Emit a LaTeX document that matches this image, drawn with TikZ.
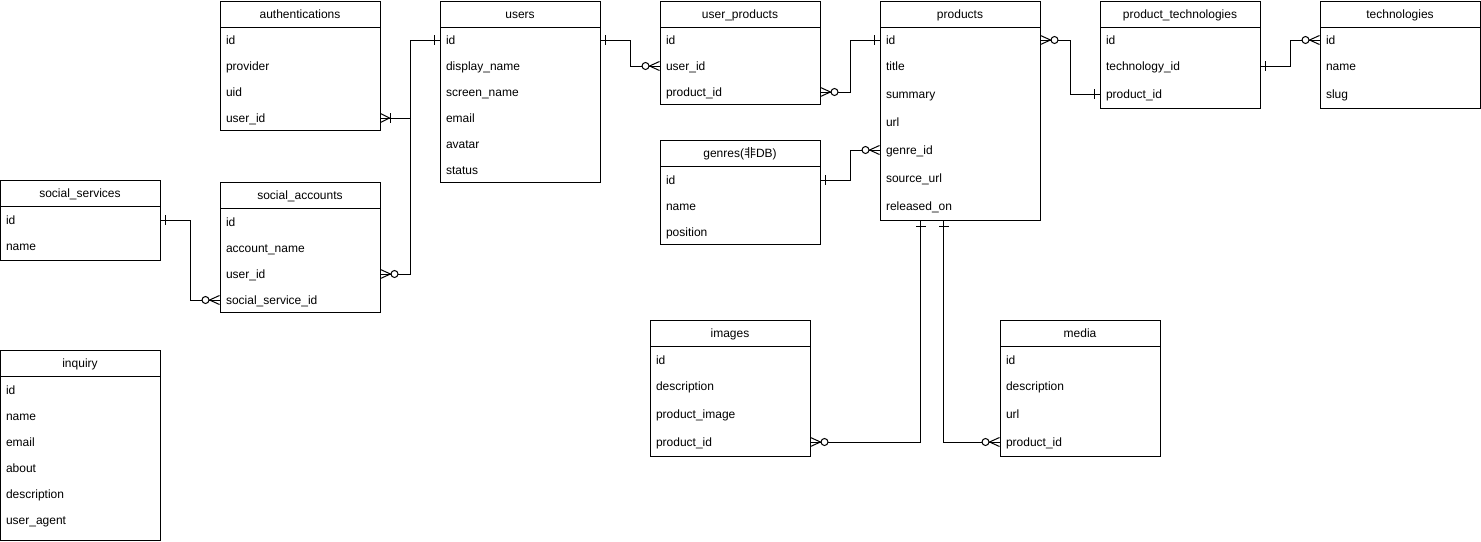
\documentclass[tikz,border=0pt]{standalone}
\usepackage{fontspec}
\setmainfont{Liberation Sans}
\newfontfamily\cjk{Noto Sans CJK SC}
\tikzset{
  every picture/.style={x=1pt,y=-1pt,line width=1pt},
  tframe/.style={draw,line width=1pt,minimum width=160pt,inner sep=0pt,anchor=north west},
  thead/.style={font=\fontsize{12}{14}\selectfont,inner sep=0pt,text height=8.6pt,text depth=0pt},
  erow/.style={font=\fontsize{12}{14}\selectfont,minimum width=160pt,minimum height=26pt,
    text width=148pt,inner xsep=6pt,inner ysep=0pt,align=left,text height=8.6pt,text depth=0pt},
  one/.pic={\draw (5,-5) -- (5,5);},
  zmany/.pic={\draw (0,-4.5) -- (10,0) -- (0,4.5);
              \draw[fill=white] (14,0) circle[radius=3.5pt];},
  onemany/.pic={\draw (0,-4.5) -- (9,0) -- (0,4.5); \draw (10,-5) -- (10,5);},
}
% #1 name, #2 x left, #3 top, #4 bottom, #5 title
\newcommand\ertable[5]{%
  \node[tframe,minimum height={(#4-#3)*1pt}] (#1) at (#2,#3) {};
  \draw (#2,#3+26) -- (#2+160,#3+26);
  \node[thead] (#1-t) at (#2+80,#3+13.5) {#5};
}
% #1 name, #2 x left, #3 y center, #4 text
\newcommand\erow[4]{\node[erow] (#1) at (#2+80,#3) {#4};}
\begin{document}
\begin{tikzpicture}
\useasboundingbox (0,0) rectangle (1481,541);

% authentications
\ertable{auth}{220}{1}{130}{authentications}
\erow{authid}{220}{40}{id}
\erow{authprovider}{220}{66}{provider}
\erow{authuid}{220}{92}{uid}
\erow{authuserid}{220}{118}{user\_id}

% users
\ertable{users}{440}{1}{182}{users}
\erow{usersid}{440}{40}{id}
\erow{usersdisp}{440}{66}{display\_name}
\erow{usersscreen}{440}{92}{screen\_name}
\erow{usersemail}{440}{118}{email}
\erow{usersavatar}{440}{144}{avatar}
\erow{usersstatus}{440}{170}{status}

% user_products
\ertable{up}{660}{1}{104}{user\_products}
\erow{upid}{660}{40}{id}
\erow{upuserid}{660}{66}{user\_id}
\erow{upproductid}{660}{92}{product\_id}

% products
\ertable{products}{880}{1}{220}{products}
\erow{pid}{880}{40}{id}
\erow{ptitle}{880}{66}{title}
\erow{psummary}{880}{94}{summary}
\erow{purl}{880}{122}{url}
\erow{pgenre}{880}{150}{genre\_id}
\erow{psource}{880}{178}{source\_url}
\erow{preleased}{880}{206}{released\_on}

% product_technologies
\ertable{pt}{1100}{1}{108}{product\_technologies}
\erow{ptid}{1100}{40}{id}
\erow{pttech}{1100}{66}{technology\_id}
\erow{ptproductid}{1100}{94}{product\_id}

% technologies
\ertable{tech}{1320}{1}{108}{technologies}
\erow{techid}{1320}{40}{id}
\erow{techname}{1320}{66}{name}
\erow{techslug}{1320}{94}{slug}

% genres
\ertable{genres}{660}{140}{244}{genres({\cjk 非}DB)}
\erow{gid}{660}{180}{id}
\erow{gname}{660}{206}{name}
\erow{gpos}{660}{232}{position}

% social_services
\ertable{ss}{0}{180}{260}{social\_services}
\erow{ssid}{0}{220}{id}
\erow{ssname}{0}{246}{name}

% social_accounts
\ertable{sa}{220}{182}{312}{social\_accounts}
\erow{said}{220}{222}{id}
\erow{saname}{220}{248}{account\_name}
\erow{sauserid}{220}{274}{user\_id}
\erow{saservice}{220}{300}{social\_service\_id}

% inquiry
\ertable{inq}{0}{350}{540}{inquiry}
\erow{inqid}{0}{390}{id}
\erow{inqname}{0}{416}{name}
\erow{inqemail}{0}{442}{email}
\erow{inqabout}{0}{468}{about}
\erow{inqdesc}{0}{494}{description}
\erow{inqua}{0}{520}{user\_agent}

% images
\ertable{img}{650}{320}{456}{images}
\erow{imgid}{650}{360}{id}
\erow{imgdesc}{650}{386}{description}
\erow{imgpimg}{650}{414}{product\_image}
\erow{imgproductid}{650}{442}{product\_id}

% media
\ertable{media}{1000}{320}{456}{media}
\erow{mediaid}{1000}{360}{id}
\erow{mediadesc}{1000}{386}{description}
\erow{mediaurl}{1000}{414}{url}
\erow{mediaproductid}{1000}{442}{product\_id}

% connectors
\draw (authuserid.east) -- ++(30,0) |- (usersid.west);
\draw (sauserid.east) -- ++(30,0) |- (usersid.west);
\draw (usersid.east) -- ++(30,0) |- (upuserid.west);
\draw (upproductid.east) -- ++(30,0) |- (pid.west);
\draw (gid.east) -- ++(30,0) |- (pgenre.west);
\draw (pid.east) -- ++(30,0) |- (ptproductid.west);
\draw (pttech.east) -- ++(30,0) |- (techid.west);
\draw (ssid.east) -- ++(30,0) |- (saservice.west);
\coordinate (pb1) at ([xshift=-40pt]products.south);
\coordinate (pb2) at ([xshift=-17pt]products.south);
\draw (pb1) |- (imgproductid.east);
\draw (pb2) |- (mediaproductid.west);

% markers
\pic at (authuserid.east) {onemany};
\pic[xscale=-1] at (usersid.west) {one};
\pic at (sauserid.east) {zmany};
\pic at (usersid.east) {one};
\pic[xscale=-1] at (upuserid.west) {zmany};
\pic at (upproductid.east) {zmany};
\pic[xscale=-1] at (pid.west) {one};
\pic at (gid.east) {one};
\pic[xscale=-1] at (pgenre.west) {zmany};
\pic at (pid.east) {zmany};
\pic[xscale=-1] at (ptproductid.west) {one};
\pic at (pttech.east) {one};
\pic[xscale=-1] at (techid.west) {zmany};
\pic at (ssid.east) {one};
\pic[xscale=-1] at (saservice.west) {zmany};
\pic[rotate=-90] at (pb1) {one};
\pic[rotate=-90] at (pb2) {one};
\pic at (imgproductid.east) {zmany};
\pic[xscale=-1] at (mediaproductid.west) {zmany};
\end{tikzpicture}
\end{document}
